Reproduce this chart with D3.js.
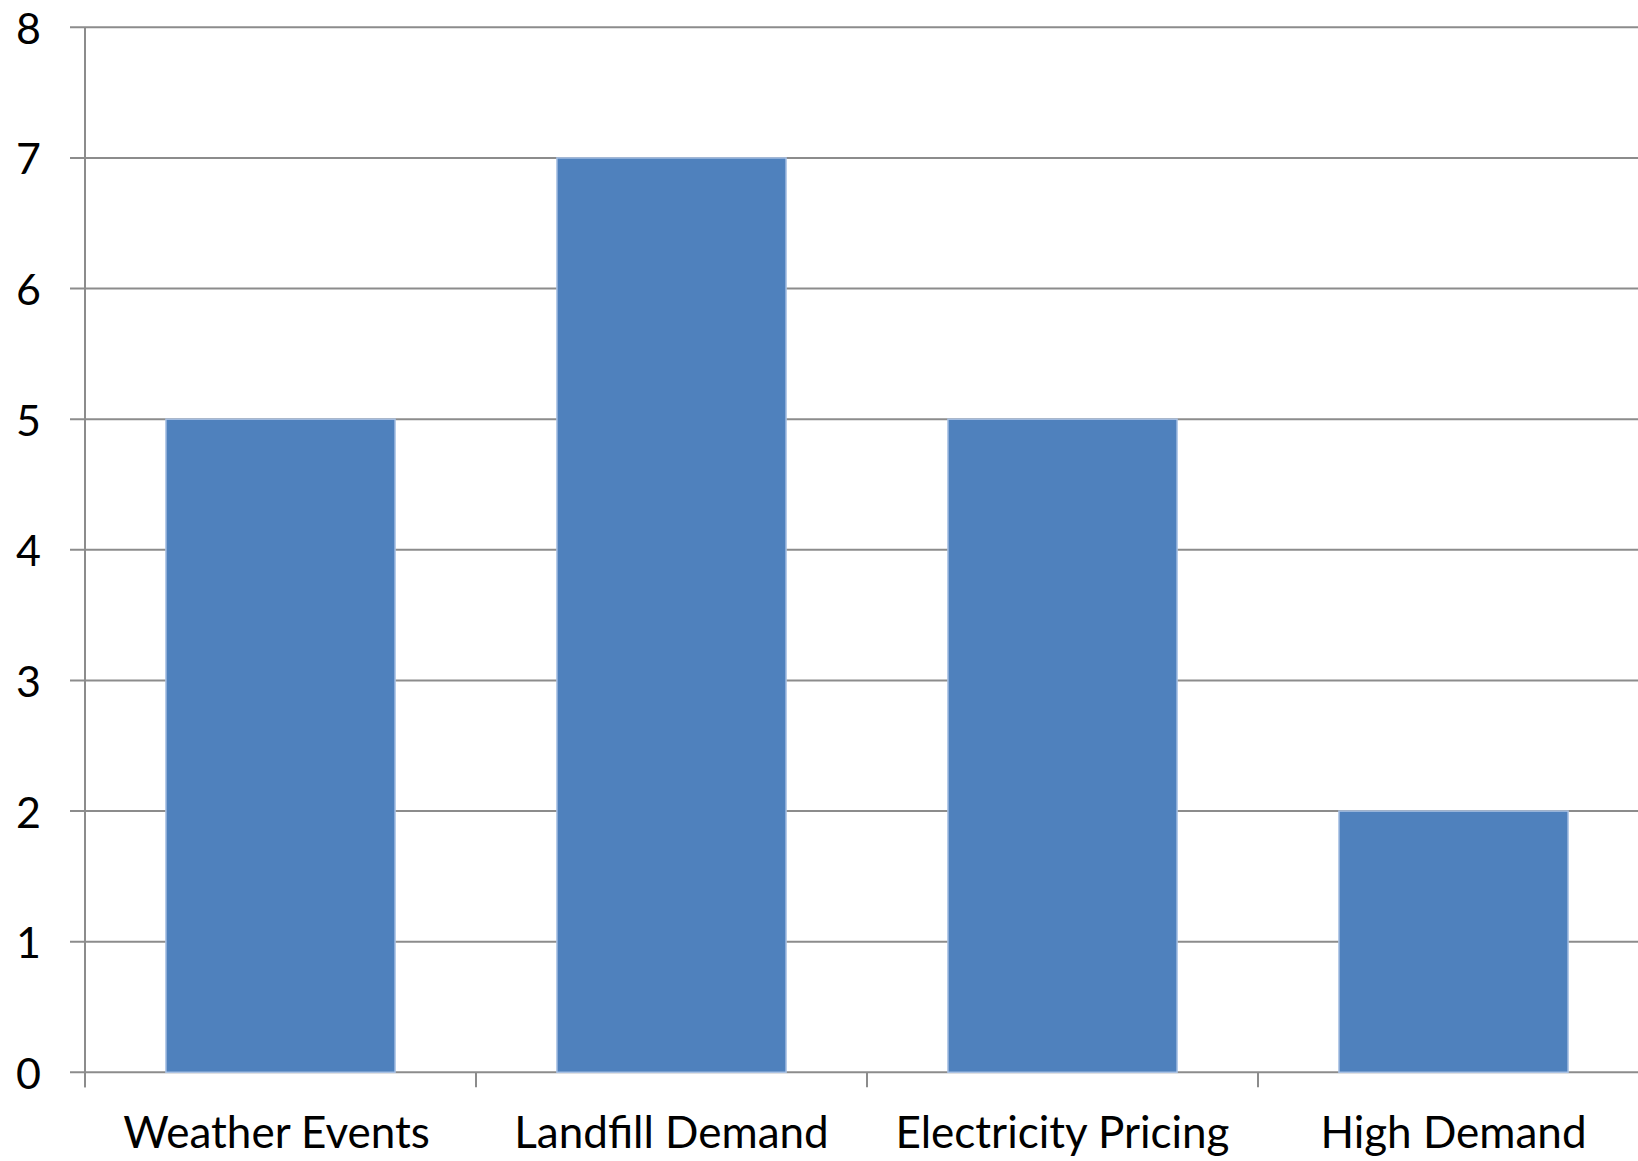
<!DOCTYPE html>
<html><head><meta charset="utf-8">
<script src="https://cdn.jsdelivr.net/npm/d3@7"></script>
<style>html,body{margin:0;padding:0;background:#fff;}svg{display:block;}</style>
</head><body>
<svg id="chart" width="1638" height="1161"></svg>
<script>
const categories = ["Weather Events", "Landfill Demand", "Electricity Pricing", "High Demand"];
const values = [5, 7, 5, 2];
const yTicks = [0, 1, 2, 3, 4, 5, 6, 7, 8];

const svg = d3.select("#chart");
const x0 = 85, step = 391, yTop = 27.3, yBottom = 1072.3;
const fontFam = "Lato, 'Open Sans', sans-serif";

const x = d3.scaleBand().domain(categories).range([x0, x0 + step * categories.length])
  .paddingInner(0.414).paddingOuter(0.207);
const y = d3.scaleLinear().domain([0, 8]).range([yBottom, yTop]);

// gridlines
svg.append("g").selectAll("line").data(yTicks).join("line")
  .attr("x1", 70).attr("x2", 1638)
  .attr("y1", d => y(d)).attr("y2", d => y(d))
  .attr("stroke", "#8c8c8c").attr("stroke-width", 2);

// y axis line
svg.append("line").attr("x1", x0).attr("x2", x0).attr("y1", yTop).attr("y2", yBottom + 15)
  .attr("stroke", "#8c8c8c").attr("stroke-width", 2);

// category tick marks
const bounds = d3.range(categories.length + 1).map(i => x0 + i * x.step());
svg.append("g").selectAll("line").data(bounds).join("line")
  .attr("x1", d => d).attr("x2", d => d)
  .attr("y1", yBottom).attr("y2", yBottom + 15)
  .attr("stroke", "#8c8c8c").attr("stroke-width", 2);

// bars
svg.append("g").selectAll("rect").data(values).join("rect")
  .attr("x", (d, i) => x(categories[i]))
  .attr("width", x.bandwidth())
  .attr("y", d => y(d))
  .attr("height", d => y(0) - y(d))
  .attr("fill", "#4f81bd")
  .attr("stroke", "#a9c1e3").attr("stroke-width", 1.5);

// y labels
svg.append("g").selectAll("text").data(yTicks).join("text")
  .attr("x", 41).attr("y", d => y(d))
  .attr("text-anchor", "end").attr("dominant-baseline", "central")
  .attr("font-family", fontFam).attr("font-size", 43).attr("fill", "#000")
  .text(d => d);

// x labels
svg.append("g").selectAll("text").data(categories).join("text")
  .attr("x", (d, i) => x(d) + x.bandwidth() / 2 - (i === 0 ? 4 : 0)).attr("y", 1148)
  .attr("text-anchor", "middle")
  .attr("font-family", fontFam).attr("font-size", 44).attr("fill", "#000")
  .text(d => d);
</script>
</body></html>
